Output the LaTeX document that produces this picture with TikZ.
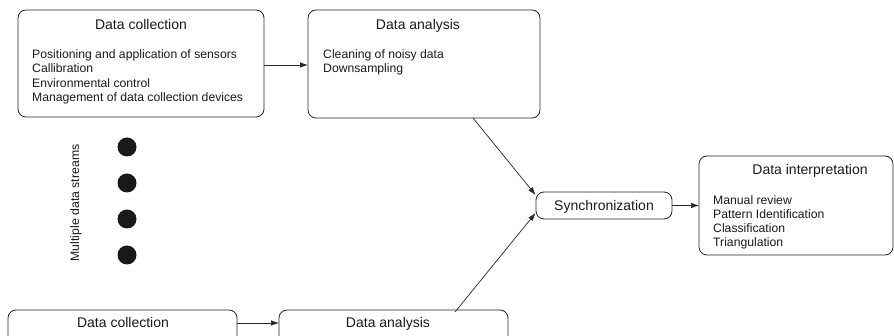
\documentclass[tikz,border=0pt]{standalone}
\usepackage{fontspec}
\setmainfont{Liberation Sans}
\usetikzlibrary{arrows.meta}
\tikzset{
  box/.style={draw=black!85, line width=0.8pt, rounded corners=8pt, inner sep=0pt},
  title/.style={font=\fontsize{14}{16}\selectfont, text=black!90, anchor=base, inner sep=0pt},
  item/.style={font=\fontsize{12.2}{14}\selectfont, text=black!90, anchor=base west, inner sep=0pt},
  link/.style={draw=black!85, line width=0.7pt, -{Latex[length=8pt,width=5.5pt]}},
  stream/.style={circle, fill=black!90, minimum size=19pt, inner sep=0pt}
}
\begin{document}
\begin{tikzpicture}[x=1pt,y=-1pt]
\useasboundingbox (0,0) rectangle (894,336);
\clip (0,0) rectangle (894,336);

% upper stream: collection and analysis
\draw[box] (18,10) rectangle (264,117);
\coordinate (dcA) at (264,65);
\node[title] (dcAt) at (141,29.3) {Data collection};
\node[item] (dcA1) at (32,59) {Positioning and application of sensors};
\node[item] (dcA2) at (32,73) {Callibration};
\node[item] (dcA3) at (32,87.5) {Environmental control};
\node[item] (dcA4) at (32,101.5) {Management of data collection devices};

\draw[box] (308,10) rectangle (540,118);
\coordinate (daA) at (308,65);
\coordinate (daAout) at (473,118);
\node[title] (daAt) at (418,29.3) {Data analysis};
\node[item] (daA1) at (323,59) {Cleaning of noisy data};
\node[item] (daA2) at (323,72.5) {Downsampling};

% synchronization and interpretation
\node[box, minimum width=136pt, minimum height=27pt] (sync) at (604,205.5) {};
\node[title] (synct) at (604,211) {Synchronization};

\draw[box] (699,156) rectangle (893,255);
\coordinate (di) at (699,205.5);
\node[title] (dit) at (810,175) {Data interpretation};
\node[item] (di1) at (713,204.5) {Manual review};
\node[item] (di2) at (713,218.5) {Pattern Identification};
\node[item] (di3) at (713,233) {Classification};
\node[item] (di4) at (713,247) {Triangulation};

% further streams
\foreach \i/\y in {1/147,2/183,3/219,4/255}
  \node[stream] (dot\i) at (127,\y) {};
\node[font=\fontsize{12.3}{14}\selectfont, text=black!90, rotate=90, inner sep=0pt] (streams) at (76,203) {Multiple data streams};

% lower stream, running past the lower edge
\draw[box] (8,310) rectangle (237,360);
\coordinate (dcB) at (237,323);
\node[title] (dcBt) at (123,328) {Data collection};
\draw[box] (279,310) rectangle (508,360);
\coordinate (daB) at (279,323);
\coordinate (daBout) at (455,312);
\node[title] (daBt) at (388,328) {Data analysis};

% connectors
\draw[link] (dcA) -- (daA);
\draw[link] (daAout) -- (sync.west |- 0,195);
\draw[link] (daBout) -- (sync.west |- 0,213);
\draw[link] (sync.east) -- (di);
\draw[link] (dcB) -- (daB);
\end{tikzpicture}
\end{document}
